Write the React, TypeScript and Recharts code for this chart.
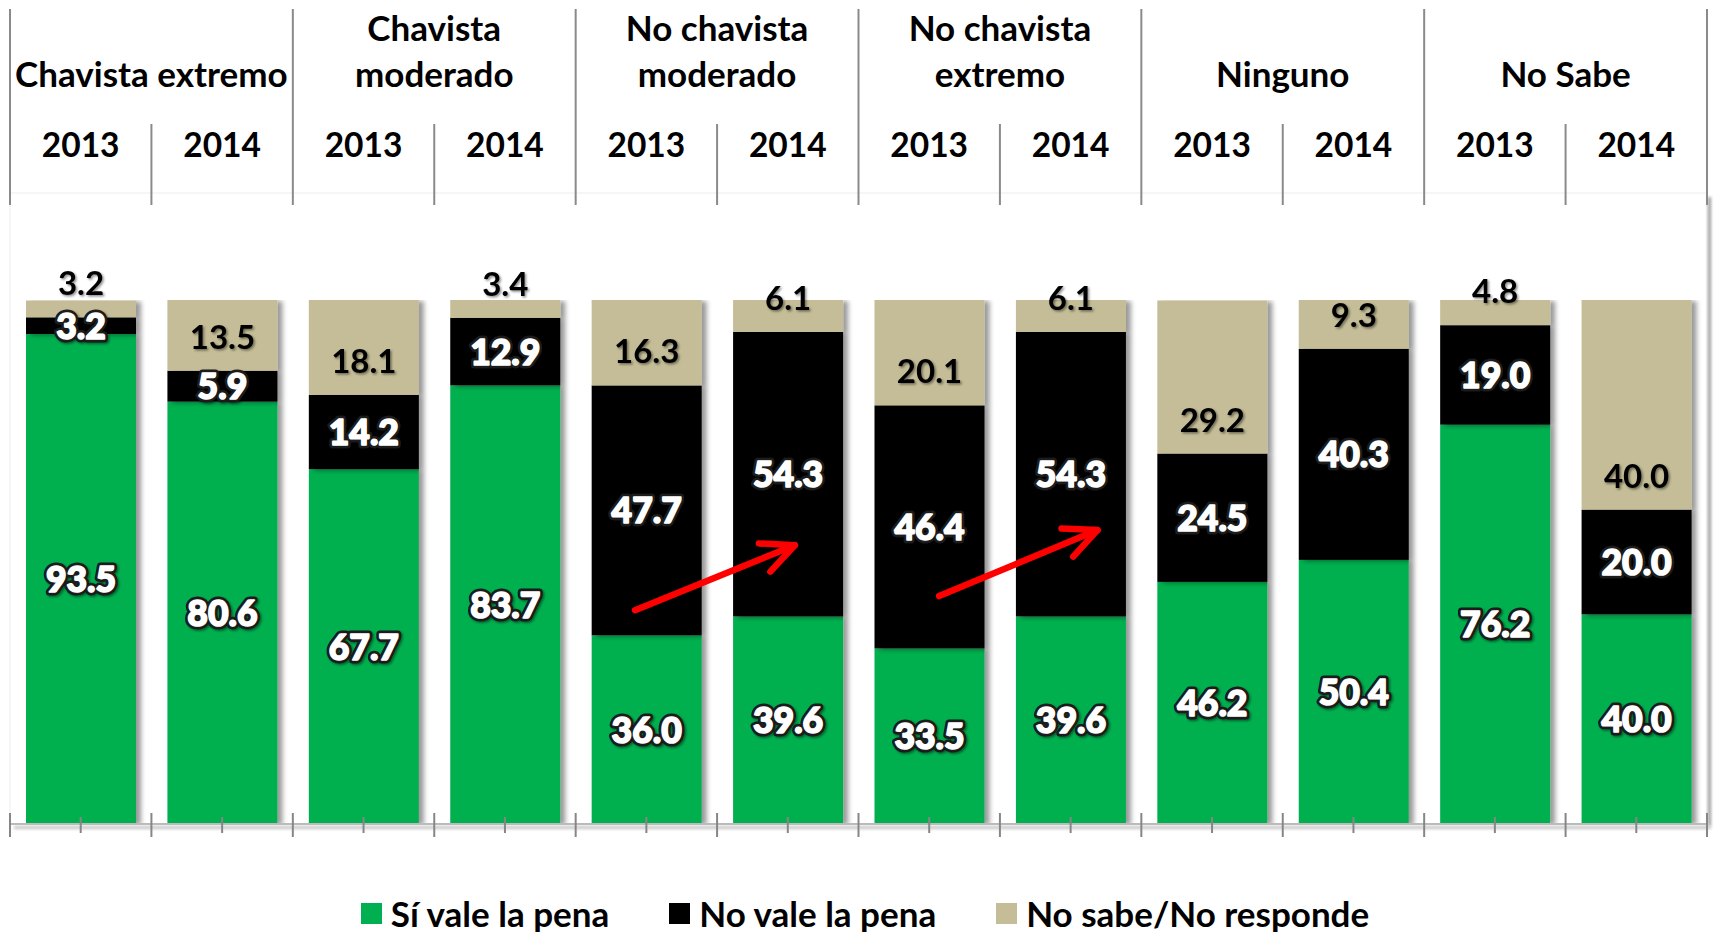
import React from 'react';
import { BarChart, Bar, XAxis, YAxis, LabelList, Legend, ReferenceLine } from 'recharts';

// ---------- data ----------
const groupNames = ['Chavista extremo', 'Chavista moderado', 'No chavista moderado', 'No chavista extremo', 'Ninguno', 'No Sabe'];
const groupLabelLines = [['Chavista extremo'], ['Chavista', 'moderado'], ['No chavista', 'moderado'], ['No chavista', 'extremo'], ['Ninguno'], ['No Sabe']];
const years = ['2013', '2014'];
const siValues = [93.5, 80.6, 67.7, 83.7, 36.0, 39.6, 33.5, 39.6, 46.2, 50.4, 76.2, 40.0];
const noValues = [3.2, 5.9, 14.2, 12.9, 47.7, 54.3, 46.4, 54.3, 24.5, 40.3, 19.0, 20.0];
const nsValues = [3.2, 13.5, 18.1, 3.4, 16.3, 6.1, 20.1, 6.1, 29.2, 9.3, 4.8, 40.0];
const seriesKeys = ['si', 'no', 'ns'];
const seriesNames = ['Sí vale la pena', 'No vale la pena', 'No sabe/No responde'];
const seriesColors = ['#00B050', '#000000', '#C4BD97'];
// red arrows: from category index / value to category index / value
const arrowNotes = [
  { from: 4, fromValue: 40.8, to: 5, toValue: 53.2, fromShift: -0.08, toShift: 0.05 },
  { from: 6, fromValue: 43.5, to: 7, toValue: 56.1, fromShift: 0.07, toShift: 0.19 },
];

const rows = siValues.map((si, i) => ({
  id: `${groupNames[Math.floor(i / 2)]} ${years[i % 2]}`,
  year: years[i % 2],
  groupIndex: Math.floor(i / 2),
  si,
  no: noValues[i],
  ns: nsValues[i],
}));

// ---------- layout ----------
const W = 1714;
const H = 932;
const MARGIN = { top: 10, right: 7, bottom: 0, left: 10 };
const TOP_AXIS_H = 290;
const BOTTOM_AXIS_H = 68;
const LEGEND_H = 40;
const BW = (W - MARGIN.left - MARGIN.right) / rows.length;
const PLOT_BOTTOM = H - MARGIN.bottom - BOTTOM_AXIS_H - LEGEND_H;
const FONT = 'Lato, "Open Sans", "Noto Sans", sans-serif';
const LINE_GRAY = '#8a8a8a';

const fmt = (v: number) => Number(v).toFixed(1);

function Defs() {
  return (
    <defs>
      <filter id="barShadow" filterUnits="userSpaceOnUse" x="0" y="0" width={W} height={H}>
        <feDropShadow dx="5" dy="1" stdDeviation="2.5" floodColor="#000" floodOpacity="0.4" />
      </filter>
      <filter id="labelShadow" filterUnits="userSpaceOnUse" x="0" y="0" width={W} height={H}>
        <feDropShadow dx="1.5" dy="1.5" stdDeviation="1" floodColor="#000" floodOpacity="0.45" />
      </filter>
      <filter id="softBlur" filterUnits="userSpaceOnUse" x="0" y="0" width={W} height={H}>
        <feGaussianBlur stdDeviation="1.8" />
      </filter>
    </defs>
  );
}

function TopTick(props: any) {
  const { x, payload } = props;
  const i = rows.findIndex((r) => r.id === payload.value);
  const row = rows[i];
  const left = x - BW / 2;
  const right = x + BW / 2;
  const isFirst = i % 2 === 0;
  const groupStyle = { fontFamily: FONT, fontWeight: 700, fontSize: 35, fill: '#000' } as any;
  const yearStyle = { fontFamily: FONT, fontWeight: 700, fontSize: 33.5, fill: '#000' } as any;
  const lines = groupLabelLines[row.groupIndex];
  const baselines = lines.length === 1 ? [87] : [41, 87];
  return (
    <g>
      {i === 0 && <Defs />}
      {i === 0 && (
        <g>
          <rect x={MARGIN.left} y={193} width={W - MARGIN.left - MARGIN.right} height={PLOT_BOTTOM - 193} fill="none" stroke="#eeeeee" strokeWidth={1} />
          <rect x={W - MARGIN.right + 1} y={197} width={3} height={PLOT_BOTTOM - 195} fill="#9a9a9a" filter="url(#softBlur)" />
          <rect x={MARGIN.left + 4} y={PLOT_BOTTOM + 2} width={W - MARGIN.left - MARGIN.right} height={3} fill="#c4c4c4" filter="url(#softBlur)" />
        </g>
      )}
      <line x1={left} x2={left} y1={isFirst ? 9 : 124} y2={205} stroke={LINE_GRAY} strokeWidth={2} />
      {i === rows.length - 1 && <line x1={right} x2={right} y1={9} y2={205} stroke={LINE_GRAY} strokeWidth={2} />}
      <text x={x} y={157} textAnchor="middle" {...yearStyle}>{row.year}</text>
      {isFirst &&
        lines.map((t, k) => (
          <text key={t} x={right} y={baselines[k]} textAnchor="middle" {...groupStyle}>{t}</text>
        ))}
    </g>
  );
}

function BottomTick(props: any) {
  const { x, payload } = props;
  const i = rows.findIndex((r) => r.id === payload.value);
  const left = x - BW / 2;
  const right = x + BW / 2;
  return (
    <g>
      <line x1={left} x2={left} y1={PLOT_BOTTOM - 11} y2={PLOT_BOTTOM + 13} stroke="#868686" strokeWidth={2} />
      <line x1={x} x2={x} y1={PLOT_BOTTOM - 7} y2={PLOT_BOTTOM + 9} stroke="#868686" strokeWidth={2} />
      {i === rows.length - 1 && <line x1={right} x2={right} y1={PLOT_BOTTOM - 11} y2={PLOT_BOTTOM + 13} stroke="#868686" strokeWidth={2} />}
    </g>
  );
}

function ShadowRect(props: any) {
  const { x, y, width, height, fill } = props;
  if (width == null || height == null) return null;
  return <rect x={x} y={y} width={width} height={Math.max(0, height)} fill={fill} filter="url(#barShadow)" />;
}

function box(p: any) {
  const vb = p.viewBox && p.viewBox.width != null ? p.viewBox : p;
  return { x: Number(vb.x), y: Number(vb.y), width: Number(vb.width), height: Number(vb.height) };
}

function WhiteLabel(p: any) {
  const { x, y, width, height } = box(p);
  const cx = x + width / 2;
  const cy = y + height / 2;
  const common = {
    x: cx,
    y: cy + 13,
    textAnchor: 'middle',
    fontFamily: FONT,
    fontWeight: 900,
    fontSize: 35.5,
    strokeLinejoin: 'round',
  } as any;
  return (
    <g>
      <text {...common} fill="#1a1a1a" stroke="#1a1a1a" strokeWidth={7} filter="url(#labelShadow)">
        {fmt(p.value)}
      </text>
      <text {...common} fill="#ffffff" stroke="#ffffff" strokeWidth={1.6}>
        {fmt(p.value)}
      </text>
    </g>
  );
}

function TanLabel(p: any) {
  const { x, y, width, height } = box(p);
  const cx = x + width / 2;
  const bottom = y + height;
  return (
    <text x={cx} y={bottom - 22} textAnchor="middle" fill="#000" filter="url(#labelShadow)" fontFamily={FONT} fontWeight={700} fontSize={33}>
      {fmt(p.value)}
    </text>
  );
}

function arrowShape(fromShift: number, toShift: number) {
  return (p: any) => {
    const x1 = p.x1 + fromShift * BW;
    const x2 = p.x2 + toShift * BW;
    const y1 = p.y1;
    const y2 = p.y2;
    const ang = Math.atan2(y2 - y1, x2 - x1);
    const L = 36;
    const a = (25 * Math.PI) / 180;
    const hx1 = x2 - L * Math.cos(ang - a);
    const hy1 = y2 - L * Math.sin(ang - a);
    const hx2 = x2 - L * Math.cos(ang + a);
    const hy2 = y2 - L * Math.sin(ang + a);
    return (
      <g>
        <line x1={x1} y1={y1} x2={x2} y2={y2} stroke="#FF0000" strokeWidth={6.5} strokeLinecap="round" />
        <polyline points={`${hx1},${hy1} ${x2},${y2} ${hx2},${hy2}`} fill="none" stroke="#FF0000" strokeWidth={6.5} strokeLinecap="round" strokeLinejoin="round" />
      </g>
    );
  };
}

function LegendContent() {
  return (
    <div
      style={{
        display: 'flex',
        justifyContent: 'center',
        alignItems: 'center',
        height: LEGEND_H,
        paddingTop: 3,
        paddingLeft: 16,
        boxSizing: 'border-box',
        fontFamily: FONT,
        fontWeight: 700,
        fontSize: 35,
        color: '#000',
        width: W,
      }}
    >
      {seriesNames.map((n, k) => (
        <div key={n} style={{ display: 'flex', alignItems: 'center', marginRight: k < seriesNames.length - 1 ? 60 : 0 }}>
          <span style={{ width: 21, height: 21, background: seriesColors[k], marginRight: 9, display: 'inline-block' }} />
          <span style={{ lineHeight: '33px', whiteSpace: 'nowrap' }}>{n}</span>
        </div>
      ))}
    </div>
  );
}

export default function App() {
  return (
    <div style={{ position: 'absolute', left: 0, top: 0, width: W, height: H, background: '#fff' }}>
      <BarChart width={W} height={H} data={rows} margin={MARGIN} barSize={110} style={{ fontFamily: FONT }}>
        <XAxis
          xAxisId="top"
          dataKey="id"
          orientation="top"
          height={TOP_AXIS_H}
          axisLine={false}
          tickLine={false}
          interval={0}
          tick={(p: any) => <TopTick {...p} />}
        />
        <XAxis
          xAxisId="bottom"
          dataKey="id"
          orientation="bottom"
          height={BOTTOM_AXIS_H}
          axisLine={{ stroke: '#868686', strokeWidth: 2 }}
          tickLine={false}
          interval={0}
          tick={(p: any) => <BottomTick {...p} />}
        />
        <YAxis hide domain={[0, 100]} allowDataOverflow />
        {seriesKeys.map((k, idx) => (
          <Bar
            key={k}
            xAxisId="bottom"
            dataKey={k}
            name={seriesNames[idx]}
            stackId="a"
            fill={seriesColors[idx]}
            isAnimationActive={false}
            shape={(p: any) => <ShadowRect {...p} />}
          >
            <LabelList dataKey={k} content={(p: any) => (k === 'ns' ? <TanLabel {...p} /> : <WhiteLabel {...p} />)} />
          </Bar>
        ))}
        {arrowNotes.map((a, i) => (
          <ReferenceLine
            key={i}
            xAxisId="bottom"
            ifOverflow="visible"
            segment={[
              { x: rows[a.from].id, y: a.fromValue },
              { x: rows[a.to].id, y: a.toValue },
            ]}
            stroke="#FF0000"
            shape={arrowShape(a.fromShift, a.toShift)}
          />
        ))}
        <Legend verticalAlign="bottom" height={LEGEND_H} content={() => <LegendContent />} wrapperStyle={{ left: 0, bottom: 0, width: W }} />
      </BarChart>
    </div>
  );
}
